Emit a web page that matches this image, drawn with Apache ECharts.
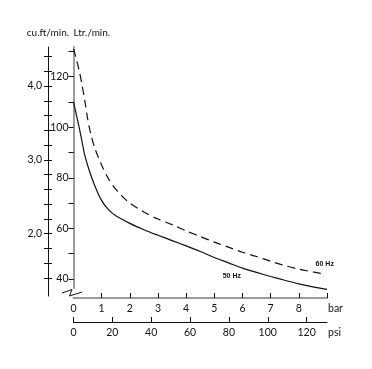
<!DOCTYPE html>
<html><head><meta charset="utf-8">
<script src="https://cdn.jsdelivr.net/npm/echarts@6/dist/echarts.min.js"></script>
<style>html,body{margin:0;padding:0;background:#fff}#c{width:372px;height:369px}</style>
</head><body><div id="c"></div>
<script>
// pressure in bar, flow in Ltr/min
const hz50Bar = [0, 0.1, 0.2, 0.3, 0.4, 0.6, 0.8, 1.0, 1.25, 1.5, 2.0, 2.5, 3.0, 3.5, 4.0, 4.5, 5.0, 5.5, 6.0, 6.5, 7.0, 7.5, 8.0, 8.5, 9.0];
const hz50Ltr = [110, 105, 100, 94.5, 89, 81.5, 75.7, 71, 67.3, 65, 62, 59.5, 57.3, 55.2, 53.1, 50.9, 48.5, 46.4, 44.3, 42.6, 41, 39.5, 38.1, 36.9, 35.9];
const hz60Bar = [0, 0.1, 0.2, 0.3, 0.4, 0.5, 0.6, 0.75, 1.0, 1.25, 1.5, 1.75, 2.0, 2.5, 3.0, 3.5, 4.0, 4.5, 5.0, 5.5, 6.0, 6.5, 7.0, 7.5, 8.0, 8.5, 8.8];
const hz60Ltr = [131, 127, 122.5, 117, 110.5, 103.5, 98, 92, 85, 79.5, 75.5, 72.5, 70, 66.5, 63.7, 61.5, 59, 56.8, 54.6, 52.6, 50.6, 48.9, 47, 45.3, 43.9, 42.8, 42.2];
const barTicks = [1, 2, 3, 4, 5, 6, 7, 8, 9];
const barLabels = [0, 1, 2, 3, 4, 5, 6, 7, 8];
const psiTicks = [0, 20, 40, 60, 80, 100, 120];
const ltrTicks = [40, 50, 60, 70, 80, 90, 100, 110, 120, 130];
const ltrLabels = [40, 60, 80, 100, 120];
const cuTicks = [1.4, 1.6, 1.8, 2.0, 2.2, 2.4, 2.6, 2.8, 3.0, 3.2, 3.4, 3.6, 3.8, 4.0, 4.2, 4.4];
const cuLabels = [2, 3, 4];
const seriesNames = ['50 Hz', '60 Hz'];

const FONT = "Lato, 'Liberation Sans', sans-serif";
const GRAY = '#9b9b9b';
const chart = echarts.init(document.getElementById('c'));
const zip = (a, b) => a.map((v, i) => [v, b[i]]);
const LTR_MIN = 32.49, LTR_MAX = 131.74;
const txt = {color: '#111', fontFamily: FONT, fontSize: 10.5};

chart.setOption({
  animation: false,
  backgroundColor: '#fff',
  grid: [
    {left: 73.5, width: 253.5, top: 47, height: 251},
    {left: 73.5, width: 253.5, top: 47, height: 241},
    {left: 48, width: 10, top: 47, height: 249}
  ],
  xAxis: [
    {type: 'value', gridIndex: 0, min: 0, max: 9, position: 'bottom',
      axisLine: {show: true, lineStyle: {color: GRAY, width: 2}},
      axisTick: {show: true, inside: true, length: 5, lineStyle: {color: '#111', width: 1}, customValues: barTicks},
      axisLabel: {show: true, margin: 5, customValues: barLabels, ...txt},
      splitLine: {show: false},
      name: 'bar', nameLocation: 'end', nameGap: 1,
      nameTextStyle: {...txt, align: 'left', verticalAlign: 'top', padding: [5, 0, 0, 0]}},
    {type: 'value', gridIndex: 0, min: 0, max: 130.5, position: 'bottom', offset: 24,
      axisLine: {show: true, lineStyle: {color: '#111', width: 1}},
      axisTick: {show: true, inside: true, length: 5, lineStyle: {color: '#111', width: 1}, customValues: psiTicks},
      axisLabel: {show: true, margin: 5, customValues: psiTicks, ...txt},
      splitLine: {show: false},
      name: 'psi', nameLocation: 'end', nameGap: 1,
      nameTextStyle: {...txt, align: 'left', verticalAlign: 'top', padding: [5, 0, 0, 0]}},
    {type: 'value', gridIndex: 1, show: false},
    {type: 'value', gridIndex: 2, show: false}
  ],
  yAxis: [
    {type: 'value', gridIndex: 0, min: LTR_MIN, max: LTR_MAX,
      axisLine: {show: false},
      axisTick: {show: true, inside: false, length: 3, lineStyle: {color: '#111', width: 1}, customValues: ltrTicks},
      axisLabel: {show: true, margin: 5, customValues: ltrLabels, ...txt},
      splitLine: {show: false}},
    {type: 'value', gridIndex: 0, min: LTR_MIN, max: LTR_MAX,
      axisLine: {show: false},
      axisTick: {show: true, inside: true, length: 5, lineStyle: {color: '#111', width: 1}, customValues: ltrTicks},
      axisLabel: {show: false}, splitLine: {show: false}},
    {type: 'value', gridIndex: 1, min: 0, max: 1,
      axisLine: {show: true, lineStyle: {color: GRAY, width: 2}},
      axisTick: {show: false}, axisLabel: {show: false}, splitLine: {show: false},
      name: 'Ltr./min.', nameLocation: 'end', nameGap: 9,
      nameTextStyle: {...txt, fontSize: 10, align: 'left'}},
    {type: 'value', gridIndex: 2, min: 1.153, max: 4.529, position: 'left',
      axisLine: {show: true, lineStyle: {color: '#111', width: 1}},
      axisTick: {show: true, inside: false, length: 4, lineStyle: {color: '#111', width: 1}, customValues: cuTicks},
      axisLabel: {show: true, margin: 6, customValues: cuLabels, ...txt,
        formatter: v => v.toFixed(1).replace('.', ',')},
      splitLine: {show: false},
      name: 'cu.ft/min.', nameLocation: 'end', nameGap: 9,
      nameTextStyle: {...txt, fontSize: 10}},
    {type: 'value', gridIndex: 2, min: 1.153, max: 4.529, position: 'left',
      axisLine: {show: false},
      axisTick: {show: true, inside: true, length: 4, lineStyle: {color: '#111', width: 1}, customValues: cuTicks},
      axisLabel: {show: false}, splitLine: {show: false}}
  ],
  series: [
    {name: seriesNames[0], type: 'line', xAxisIndex: 0, yAxisIndex: 0, data: zip(hz50Bar, hz50Ltr),
      showSymbol: false, smooth: 0.3, clip: false,
      lineStyle: {color: '#111', width: 1.2},
      markPoint: {silent: true, symbol: 'circle', symbolSize: 0,
        data: [{coord: [5.62, 41.2], value: seriesNames[0]}],
        label: {show: true, position: 'inside', formatter: seriesNames[0], color: '#111',
          fontFamily: 'Liberation Sans, sans-serif', fontSize: 7, fontWeight: 'bold'}}},
    {name: seriesNames[1], type: 'line', xAxisIndex: 0, yAxisIndex: 0, data: zip(hz60Bar, hz60Ltr),
      showSymbol: false, smooth: 0.3, clip: false,
      lineStyle: {color: '#111', width: 1.2, type: [8, 5]},
      markPoint: {silent: true, symbol: 'circle', symbolSize: 0,
        data: [{coord: [8.92, 45.9], value: seriesNames[1]}],
        label: {show: true, position: 'inside', formatter: seriesNames[1], color: '#111',
          fontFamily: 'Liberation Sans, sans-serif', fontSize: 7, fontWeight: 'bold'}}}
  ],
  graphic: [
    {type: 'polyline', silent: true,
      shape: {points: [[62, 293], [72, 289.5], [69.5, 296], [82, 292]]},
      style: {stroke: '#111', lineWidth: 1, fill: null}}
  ]
});
</script></body></html>
